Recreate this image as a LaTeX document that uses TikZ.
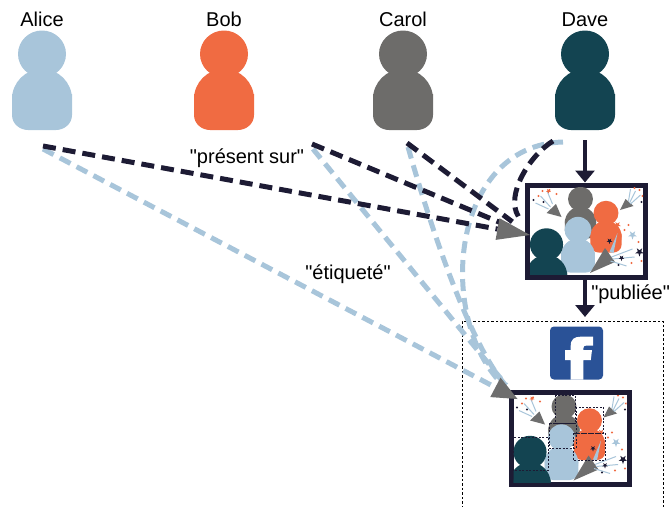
\documentclass[tikz,border=0pt]{standalone}
\usepackage{fontspec}
\setmainfont{Liberation Sans}
\usetikzlibrary{arrows.meta,positioning,calc}
\definecolor{ink}{HTML}{1D1B34}
\definecolor{sky}{HTML}{A8C5DA}
\definecolor{coral}{HTML}{F06B42}
\definecolor{slate}{HTML}{6D6C6A}
\definecolor{petrol}{HTML}{134451}
\definecolor{cone}{HTML}{6E6E6E}
\definecolor{fbblue}{HTML}{2A5297}
\newcommand\qq[1]{\textquotedbl#1\textquotedbl}
\tikzset{
  who/.style={anchor=base, inner sep=0pt, font=\fontsize{20}{24}\selectfont},
  lbl/.style={anchor=base, inner sep=0pt, text=black, font=\fontsize{20}{24}\selectfont},
  photo/.style={draw=ink, line width=5pt, fill=white, minimum width=118pt, minimum height=92pt, inner sep=0pt},
  feed/.style={draw, dash pattern=on 2.5pt off 2pt, line width=.7pt, minimum width=201pt, minimum height=210pt, inner sep=0pt},
  fbicon/.style={fill=fbblue, rounded corners=4pt, minimum size=53pt, inner sep=0pt},
  flow/.style={ink, line width=4.5pt, -{Triangle[length=12pt, width=19pt]}},
  present/.style={ink, line width=5pt, dash pattern=on 13pt off 7pt},
  tagged/.style={sky, line width=5pt, dash pattern=on 12pt off 7pt},
  cone tip/.style={-{Triangle[length=#1, width=22pt, color=cone, fill=cone, line width=0pt]}},
  tagbox/.style={draw=ink, line width=.6pt, dash pattern=on 2pt off 1.5pt},
  % a person seen as a head on a body, origin at the head
  person/.pic={
    \fill[pic actions] (0,0) ellipse [x radius=24, y radius=23.5];
    \fill[pic actions] (0,45) ellipse [x radius=30, y radius=30];
    \fill[pic actions] (-30,40) -- (-30,61) .. controls (-30,70) and (-22,76) .. (-14,76)
      -- (14,76) .. controls (22,76) and (30,70) .. (30,61) -- (30,40) -- cycle;
  },
  spark/.pic={
    \fill[pic actions] (90:1) -- (126:.4) -- (162:1) -- (198:.4) -- (234:1) -- (270:.4)
      -- (306:1) -- (342:.4) -- (18:1) -- (54:.4) -- cycle;
  },
  % party picture with the four friends and three poppers
  groupshot/.pic={
    \begin{scope}
      \clip (-56.5,-43.5) rectangle (56.5,43.5);
      \pic[fill=slate, scale=.52] at (-6,-32) {person};
      \pic[fill=coral, scale=.52] at (19.5,-18) {person};
      \pic[fill=sky, scale=.56] at (-8.5,-1) {person};
      \pic[fill=petrol, scale=.69] at (-40,13.5) {person};
      \fill[cone] (-40,-18) -- (-30.5,-27) -- (-25,-14) -- cycle;
      \fill[cone] (33.5,-21) -- (39,-32) -- (47,-25) -- cycle;
      \fill[cone] (3.5,42) -- (18.5,17) -- (28.5,31) -- cycle;
      \draw[sky, line width=1pt] (-36,-24) -- (-46,-35) (-34,-27) -- (-39,-39) (-38,-22) -- (-51,-28)
        (43,-28) -- (49,-40) (44,-27) -- (54,-36) (42,-30) -- (44,-42)
        (25,26) -- (46,18) (26,28) -- (48,26) (24,30) -- (40,35);
      \fill[sky] (23,21) -- (31,2) -- (27,22) -- cycle;
      \foreach \p in {(-44,-40),(-37,-41),(-30,-37),(-48,-35),(48,-43),(53,-41),(56,-35),(42,-6),(52,11),(45,32),(38,-1),(55,30)}
        \fill[coral] \p circle (1.2);
      \foreach \p in {(-53,-31),(-43,-29),(55,-29),(32,34)}
        \fill[ink] \p circle (1.2);
      \pic[fill=sky, scale=4.5] at (46,4) {spark};
      \pic[fill=ink, scale=4.5] at (53,21) {spark};
      \pic[fill=ink, scale=3] at (23,10) {spark};
      \pic[fill=ink, scale=3] at (35,27) {spark};
      \pic[fill=coral, scale=3.5] at (31,-6) {spark};
      \pic[fill=coral, scale=2.5] at (-38,-40) {spark};
    \end{scope}
  },
  facetags/.pic={
    \draw[tagbox] (-15,-43.5) rectangle (5,-15.5)
      (-21,-15.5) rectangle (6,9.5)
      (6,-31.5) rectangle (33,-5.5)
      (3,-5.5) rectangle (35,21.5)
      (-57,-1.5) rectangle (-22,31.5);
  }
}
\begin{document}
\begin{tikzpicture}[x=1pt, y=-1pt]
\useasboundingbox (0,0) rectangle (669,506);

\foreach \who/\x/\col in {Alice/42/sky, Bob/224/coral, Carol/403/slate, Dave/585/petrol} {
  \node[who] (\who) at (\x,26) {\who};
  \pic[fill=\col] at (\x,54) {person};
}

% where the dashed links leave each person
\coordinate (alice-p) at (43,146);
\coordinate (alice-t) at (43,149);
\coordinate (bob-p) at (312,144);
\coordinate (bob-t) at (313,149);
\coordinate (carol-p) at (407,143);
\coordinate (carol-t) at (408,147);
\coordinate (dave-p) at (553,141);
\coordinate (dave-t) at (563,142);
\coordinate (dave-foot) at (585,140);

\node[feed, anchor=north] (feed) at (562.5,321) {};
\node[fbicon] (fb) at (576.5,353) {};
\fill[white, shift={(fb.center)}] (-5.8,26.5) -- (-5.8,7) -- (-11.5,7) -- (-11.5,-3) -- (-5.8,-3) -- (-5.8,-7)
  .. controls (-5.8,-14) and (-2,-16.3) .. (4,-16.3) -- (16.5,-16.3) -- (16.5,-7.5) -- (10,-7.5)
  .. controls (7.5,-7.5) and (6.8,-6.5) .. (6.8,-4.5) -- (6.8,-3) -- (15.5,-3) -- (14.3,7)
  -- (6.8,7) -- (6.8,26.5) -- cycle;

\node[photo] (shot) at (586.5,231) {};
\pic at (shot.center) {groupshot};
\node[photo] (post) at (570,438.5) {};
\pic at (post.center) {groupshot};
\pic at (post.center) {facetags};

\coordinate (shot-in) at ([xshift=5pt, yshift=-4pt]shot.west);
\coordinate (post-in) at ([xshift=9pt, yshift=-9pt]post.north west);

\draw[flow] (dave-foot) -- (dave-foot |- shot.north);
\draw[flow] (dave-foot |- shot.south) -- ([yshift=4pt]dave-foot |- feed.north)
  node[midway, lbl, anchor=west, xshift=4pt, yshift=4pt] {\qq{publiée}};

\draw[tagged, shorten >=18pt] (bob-t) -- (post-in);
\draw[tagged, shorten >=18pt] (carol-t) .. controls (428,218) and (468,342) .. (post-in);
\draw[tagged, shorten >=18pt] (dave-t) .. controls (450,145) and (435,320) .. (post-in);
\draw[tagged, cone tip=25pt] (alice-t) -- (post-in);

\draw[present, shorten >=22pt] (bob-p) -- (shot-in);
\draw[present, shorten >=22pt] (carol-p) -- (shot-in);
\draw[present, shorten >=22pt] (dave-p) .. controls (530,155) and (505,195) .. (shot-in);
\draw[present, cone tip=33pt] (alice-p) -- (shot-in);

\node[lbl] (pres) at (247,163) {\qq{présent sur}};
\node[lbl] (etiq) at (348,279) {\qq{étiqueté}};
\end{tikzpicture}
\end{document}
